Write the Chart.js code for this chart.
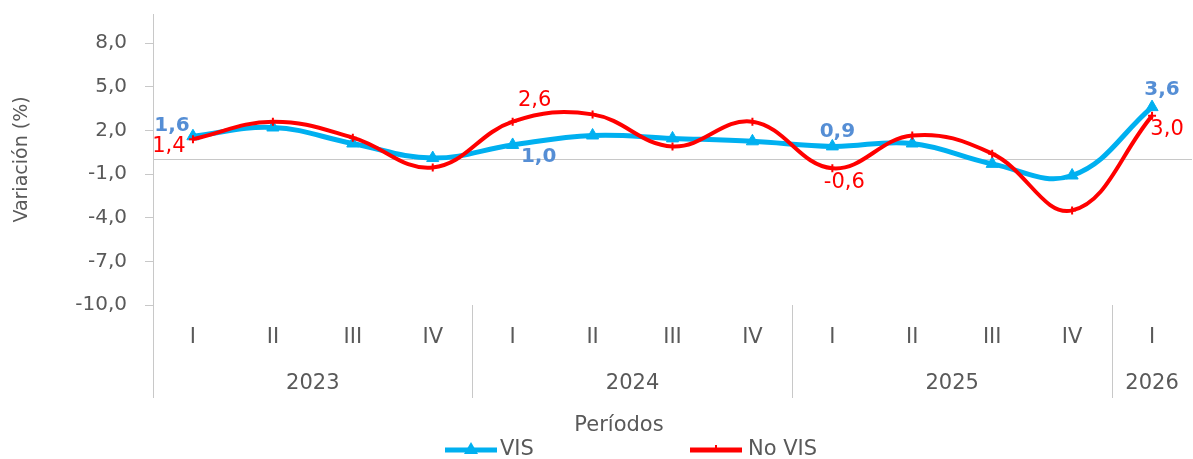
<!DOCTYPE html>
<html><head><meta charset="utf-8">
<script src="https://cdn.jsdelivr.net/npm/chart.js@4.4.1/dist/chart.umd.min.js"></script>
<style>html,body{margin:0;padding:0;overflow:hidden;background:#fff}#wrap{width:1200px;height:459px}</style>
</head><body><div id="wrap"><canvas id="c" width="1200" height="459"></canvas></div>
<script>
// ---- data ----
const quarters = ['I','II','III','IV','I','II','III','IV','I','II','III','IV','I'];
const years = ['2023','2023','2023','2023','2024','2024','2024','2024','2025','2025','2025','2025','2026'];
const visValues = [1.6, 2.2, 1.1, 0.1, 1.0, 1.65, 1.45, 1.25, 0.9, 1.1, -0.3, -1.1, 3.6];
const noVisValues = [1.4, 2.6, 1.5, -0.55, 2.6, 3.1, 0.9, 2.6, -0.6, 1.65, 0.4, -3.5, 3.0];
const visLabelIdx = [0, 4, 8, 12];
const noVisLabelIdx = [0, 4, 8, 12];
const yTickValues = [-10, -7, -4, -1, 2, 5, 8];
const yMin = -10, yMax = 10;
const seriesNames = ['VIS', 'No VIS'];

// ---- derived groups ----
const yearGroups = [];
years.forEach((y, i) => {
  const g = yearGroups[yearGroups.length - 1];
  if (g && g.label === y) g.end = i; else yearGroups.push({label: y, start: i, end: i});
});
yearGroups.forEach(g => g.center = (g.start + g.end) / 2);
const groupStarts = yearGroups.map(g => g.start);

const FONT = '"DejaVu Sans", sans-serif';
const TXT = '#595959';
const GRID = '#c8c8c8';
const fmt = v => v.toFixed(1).replace('.', ',');

const labelStyles = [
  {idx: visLabelIdx, color: '#558ED5', font: 'bold 20px ' + FONT,
   off: {0: [-21, -10], 4: [26, 12], 8: [5, -15], 12: [10, -17]}},
  {idx: noVisLabelIdx, color: '#FF0000', font: '21px ' + FONT,
   off: {0: [-24, 7], 4: [22, -21], 8: [12, 14], 12: [15, 14]}}
];

const dataLabelPlugin = {
  id: 'dataLabels',
  afterDatasetsDraw(chart) {
    const ctx = chart.ctx;
    chart.data.datasets.forEach((ds, di) => {
      const st = labelStyles[di];
      const meta = chart.getDatasetMeta(di);
      ctx.save();
      ctx.font = st.font; ctx.fillStyle = st.color;
      ctx.textAlign = 'center'; ctx.textBaseline = 'middle';
      st.idx.forEach(i => {
        const el = meta.data[i];
        const o = st.off[i] || [0, -14];
        ctx.fillText(fmt(ds.data[i]), el.x + o[0], el.y + o[1]);
      });
      ctx.restore();
    });
  }
};

const legendPlugin = {
  id: 'customLegend',
  afterDraw(chart) {
    const ctx = chart.ctx;
    ctx.save();
    ctx.font = '21px ' + FONT; ctx.fillStyle = TXT;
    ctx.textAlign = 'center'; ctx.textBaseline = 'middle';
    ctx.fillText('Períodos', 619, 426);
    const items = [{x: 445, tx: 500}, {x: 690, tx: 748}];
    const ly = 450;
    chart.data.datasets.forEach((ds, i) => {
      const it = items[i];
      ctx.strokeStyle = ds.borderColor; ctx.lineWidth = 5;
      ctx.beginPath(); ctx.moveTo(it.x, ly); ctx.lineTo(it.x + 52, ly); ctx.stroke();
      const cx = it.x + 26;
      if (i === 0) {
        ctx.fillStyle = ds.borderColor;
        ctx.beginPath(); ctx.moveTo(cx, ly - 8); ctx.lineTo(cx + 7, ly + 4); ctx.lineTo(cx - 7, ly + 4); ctx.closePath(); ctx.fill();
      } else {
        ctx.lineWidth = 2;
        ctx.beginPath(); ctx.moveTo(cx, ly - 5); ctx.lineTo(cx, ly); ctx.stroke();
      }
      ctx.fillStyle = TXT; ctx.font = '21px ' + FONT;
      ctx.textAlign = 'left';
      ctx.fillText(ds.label, it.tx, ly);
    });
    ctx.restore();
  }
};

new Chart(document.getElementById('c'), {
  type: 'line',
  data: {
    labels: quarters,
    datasets: [
      {label: seriesNames[0], data: visValues, borderColor: '#00B0F0', backgroundColor: '#00B0F0',
       borderWidth: 5, tension: 0.4, pointStyle: 'triangle', pointRadius: 7, pointBorderWidth: 1, order: 1},
      {label: seriesNames[1], data: noVisValues, borderColor: '#FF0000', backgroundColor: '#FF0000',
       borderWidth: 4, tension: 0.4, pointStyle: 'cross', pointRadius: 4, pointBorderWidth: 2, order: 0}
    ]
  },
  options: {
    responsive: false, animation: false, devicePixelRatio: 1,
    layout: {padding: {top: 14, right: 1, bottom: 54, left: 0}},
    plugins: {legend: {display: false}, tooltip: {enabled: false}},
    scales: {
      x: {
        type: 'category', position: 'bottom', weight: 0, offset: true,
        border: {display: false},
        grid: {offset: true, drawOnChartArea: false, drawTicks: true, tickLength: 93, lineWidth: 1,
               color: c => (c.index !== undefined && groupStarts.includes(c.index)) ? GRID : 'rgba(0,0,0,0)',
               tickColor: c => (c.index !== undefined && groupStarts.includes(c.index)) ? GRID : 'rgba(0,0,0,0)'},
        ticks: {color: TXT, font: {family: FONT, size: 21}, padding: -73, maxRotation: 0, autoSkip: false},
        afterFit: s => { s.height = 50; s.paddingLeft = 0; s.paddingRight = 0; }
      },
      x2: {
        type: 'linear', position: 'bottom', weight: 1, min: -0.5, max: 12.5, offset: false,
        border: {display: false},
        grid: {display: false, drawTicks: false},
        afterBuildTicks: s => { s.ticks = yearGroups.map(g => ({value: g.center})); },
        ticks: {color: TXT, font: {family: FONT, size: 21}, padding: 16, maxRotation: 0, autoSkip: false,
                callback: (v, i) => yearGroups[i] ? yearGroups[i].label : ''},
        afterFit: s => { s.height = 50; s.paddingLeft = 0; s.paddingRight = 0; }
      },
      y: {
        min: yMin, max: yMax,
        border: {display: true, color: GRID},
        afterBuildTicks: s => { s.ticks = yTickValues.concat([0]).sort((a, b) => a - b).map(v => ({value: v})); },
        grid: {drawTicks: true, tickLength: 8,
               color: c => (c.tick && c.tick.value === 0) ? GRID : 'rgba(0,0,0,0)',
               tickColor: c => (c.tick && c.tick.value === 0) ? 'rgba(0,0,0,0)' : GRID},
        ticks: {color: TXT, font: {family: FONT, size: 20}, padding: 18,
                callback: v => v === 0 ? '' : fmt(v)},
        title: {display: true, text: 'Variación (%)', color: TXT, font: {family: FONT, size: 19}, padding: {top: 11, bottom: 0}},
        afterFit: s => { s.width = 153; s.paddingTop = 0; s.paddingBottom = 0; }
      }
    }
  },
  plugins: [dataLabelPlugin, legendPlugin]
});
</script>
</body></html>
